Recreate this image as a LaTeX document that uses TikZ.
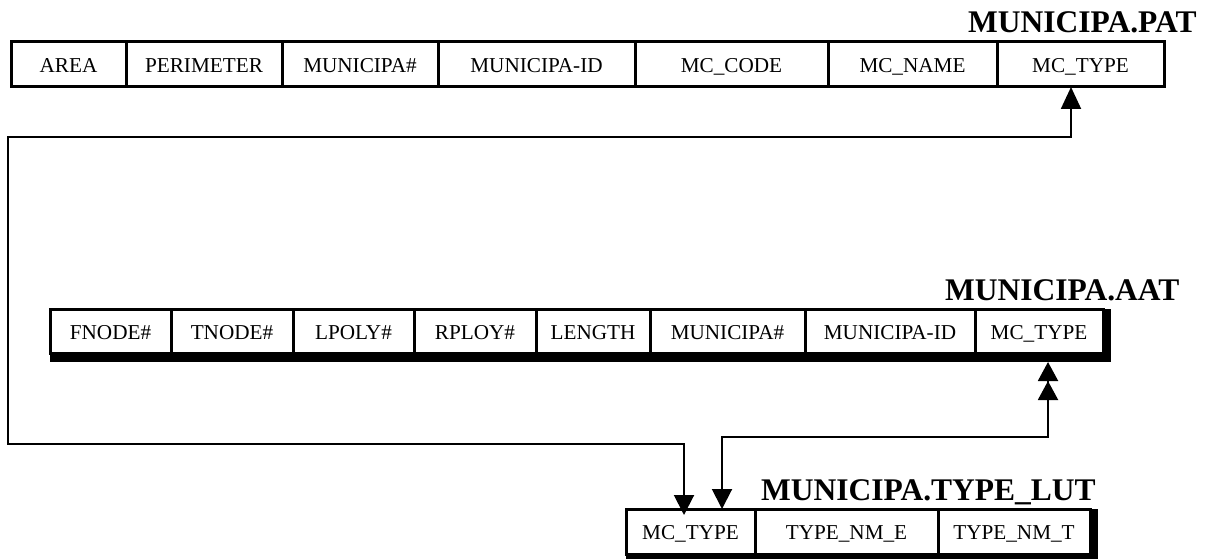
\documentclass[tikz,border=0pt]{standalone}
\usepackage{fontspec}
\setmainfont{Liberation Serif}
\usetikzlibrary{arrows.meta,positioning}

\begin{document}
\begin{tikzpicture}[
  x=1pt,y=-1pt,
  cell/.style={draw,line width=3pt,outer sep=0pt,inner sep=0pt,minimum height=45pt,minimum width=#1,
    text height=16.5pt,text depth=0pt,font=\fontsize{21.2}{24}\selectfont},
  tabname/.style={anchor=base west,inner sep=0pt,font=\fontsize{31.5}{34}\selectfont\bfseries},
  arr/.style={line width=2pt}
]
\useasboundingbox (0,0) rectangle (1225,559);
% MUNICIPA.PAT
\node[cell=115pt] (pat1) at (68.5,64.5) {AREA};
\node[cell=156pt,right=0pt of pat1] (pat2) {PERIMETER};
\node[cell=156pt,right=0pt of pat2] (pat3) {MUNICIPA\#};
\node[cell=197pt,right=0pt of pat3] (pat4) {MUNICIPA-ID};
\node[cell=193pt,right=0pt of pat4] (pat5) {MC\_CODE};
\node[cell=169pt,right=0pt of pat5] (pat6) {MC\_NAME};
\node[cell=167pt,right=0pt of pat6] (pat7) {MC\_TYPE};
\node[tabname] (pattitle) at (968,33) {MUNICIPA.PAT};
% MUNICIPA.AAT
\node[cell=121pt,minimum height=44pt] (aat1) at (110.5,331) {FNODE\#};
\node[cell=122pt,minimum height=44pt,right=0pt of aat1] (aat2) {TNODE\#};
\node[cell=121pt,minimum height=44pt,right=0pt of aat2] (aat3) {LPOLY\#};
\node[cell=122pt,minimum height=44pt,right=0pt of aat3] (aat4) {RPLOY\#};
\node[cell=114pt,minimum height=44pt,right=0pt of aat4] (aat5) {LENGTH};
\node[cell=155pt,minimum height=44pt,right=0pt of aat5] (aat6) {MUNICIPA\#};
\node[cell=170pt,minimum height=44pt,right=0pt of aat6] (aat7) {MUNICIPA-ID};
\node[cell=128pt,minimum height=44pt,right=0pt of aat7] (aat8) {MC\_TYPE};
\fill (aat1.south west) rectangle ([xshift=8pt,yshift=-9pt]aat8.south east);
\fill (aat8.north east) rectangle ([xshift=8pt,yshift=-9pt]aat8.south east);
\node[tabname] (aattitle) at (945,300) {MUNICIPA.AAT};
% MUNICIPA.TYPE_LUT
\node[cell=129pt] (lut1) at (690.5,531.5) {MC\_TYPE};
\node[cell=183pt,right=0pt of lut1] (lut2) {TYPE\_NM\_E};
\node[cell=152pt,right=0pt of lut2] (lut3) {TYPE\_NM\_T};
\fill (lut1.south west) rectangle ([xshift=8pt,yshift=-5pt]lut3.south east);
\fill (lut3.north east) rectangle ([xshift=8pt,yshift=-5pt]lut3.south east);
\node[tabname] (luttitle) at (761,500) {MUNICIPA.TYPE\_LUT};
% links on MC_TYPE
\draw[arr,{Triangle[length=22pt,width=20pt]}-{Triangle[length=20pt,width=20pt]},shorten >=-6pt]
  ([xshift=-9.5pt]pat7.south) -- ++(0,50) -| (8,444) -| ([xshift=-6.5pt]lut1.north);
\draw[arr,{Triangle[length=19pt,width=20pt,sep=0pt]Triangle[length=19pt,width=20pt,sep=0pt]}-{Triangle[length=20pt,width=20pt]}]
  ([xshift=9pt,yshift=-9pt]aat8.south) -- ++(0,75) -| ([xshift=31.5pt]lut1.north);
\end{tikzpicture}
\end{document}
